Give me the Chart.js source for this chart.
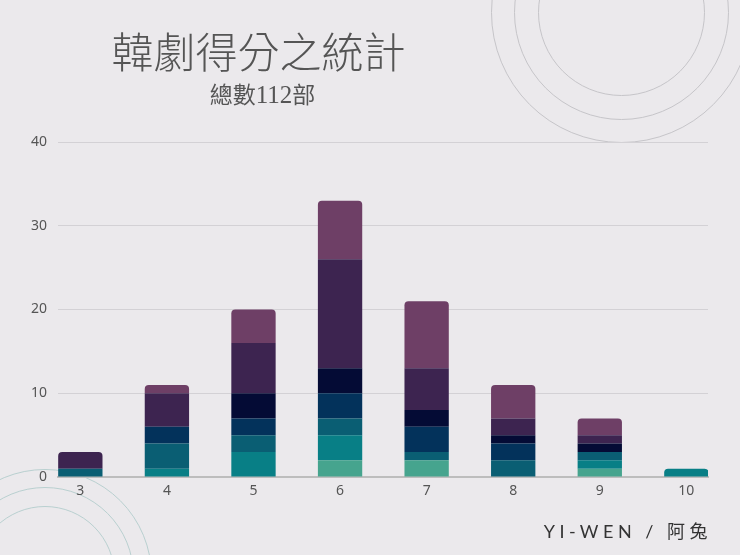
<!DOCTYPE html>
<html>
<head>
<meta charset="utf-8">
<script src="https://cdn.jsdelivr.net/npm/chart.js@4.4.0/dist/chart.umd.min.js"></script>
<style>
  html, body { margin: 0; padding: 0; }
  body { width: 740px; height: 555px; background: #ebe9ec; position: relative; overflow: hidden; }
  .ring { position: absolute; border-radius: 50%; box-sizing: border-box; }
  .ring.tr { border: 1px solid #c6c5c9; }
  .ring.bl { border: 1px solid #b9d0d0; }
  #box { position: absolute; left: 0; top: 0; width: 740px; height: 555px; }
  .title { position: absolute; left: 0; width: 517px; text-align: center; color: #555;
           font-family: "Noto Sans CJK TC", sans-serif; font-weight: 300; font-size: 42px; line-height: 42px; top: 29px; }
  .sub { position: absolute; left: 0; width: 525px; text-align: center; color: #555;
         font-family: "Noto Sans CJK TC", sans-serif; font-size: 23px; line-height: 23px; top: 82px; }
  .sub span { font-family: "Liberation Serif", serif; font-size: 25px; }
  .sign { position: absolute; right: 28px; top: 521px; color: #333; font-family: Lato, "Noto Sans CJK TC", sans-serif;
          font-size: 18px; line-height: 20px; letter-spacing: 4.5px; }
</style>
</head>
<body>
<div class="ring tr" style="left:538px;top:-71px;width:167px;height:167px"></div>
<div class="ring tr" style="left:514px;top:-95px;width:215px;height:215px"></div>
<div class="ring tr" style="left:491px;top:-118px;width:261px;height:261px"></div>
<div class="ring bl" style="left:-25px;top:506px;width:140px;height:140px"></div>
<div class="ring bl" style="left:-44px;top:487px;width:178px;height:178px"></div>
<div class="ring bl" style="left:-62px;top:469px;width:214px;height:214px"></div>
<div id="box"><canvas id="scoreChart" width="740" height="555"></canvas></div>
<div class="title">韓劇得分之統計</div>
<div class="sub">總數<span>112</span>部</div>
<div class="sign">YI-WEN / 阿兔</div>
<script>
const scores = [3, 4, 5, 6, 7, 8, 9, 10];
// stacked from the bottom up
const greenData      = [0, 0, 0, 2, 2, 0, 1, 0];
const tealData       = [0, 1, 3, 3, 0, 0, 1, 1];
const darkTealData   = [1, 3, 2, 2, 1, 2, 1, 0];
const navyData       = [0, 2, 2, 3, 3, 2, 0, 0];
const darkNavyData   = [0, 0, 3, 3, 2, 1, 1, 0];
const darkPurpleData = [2, 4, 6, 13, 5, 2, 1, 0];
const purpleData     = [0, 1, 4, 7, 8, 4, 2, 0];
const yTickMax = 40;
const yTickStep = 10;

Chart.defaults.font.family = "'Noto Sans', sans-serif";

const seriesList = [
  { label: 'A', data: greenData, color: '#46a48e' },
  { label: 'B', data: tealData, color: '#087f86' },
  { label: 'C', data: darkTealData, color: '#0a5e73' },
  { label: 'D', data: navyData, color: '#03325b' },
  { label: 'E', data: darkNavyData, color: '#040b35' },
  { label: 'F', data: darkPurpleData, color: '#3d2450' },
  { label: 'G', data: purpleData, color: '#6e3f66' }
];

const chartData = {
  labels: scores,
  datasets: seriesList.map(s => ({
    label: s.label,
    data: s.data,
    backgroundColor: s.color,
    borderWidth: 0,
    borderRadius: 4,
    categoryPercentage: 1,
    barPercentage: 0.512
  }))
};

const config = {
  type: 'bar',
  data: chartData,
  options: {
    responsive: false,
    animation: false,
    layout: { padding: { top: 142, right: 32, bottom: 56, left: 0 } },
    plugins: {
      legend: { display: false },
      tooltip: { enabled: false }
    },
    scales: {
      x: {
        type: 'linear',
        stacked: true,
        offset: false,
        min: 2.742,
        max: 10.25,
        grid: { display: false, drawTicks: false, offset: false },
        border: { display: true, color: '#bdbdbd', width: 2 },
        ticks: { stepSize: 1, includeBounds: false, padding: 6, color: '#555', font: { size: 14 } },
        afterFit: function(scale) { scale.height = 22; }
      },
      y: {
        stacked: true,
        min: 0,
        max: yTickMax,
        grid: { color: '#d3d1d5', lineWidth: 1, drawTicks: false },
        border: { display: false },
        ticks: { stepSize: yTickStep, padding: 11, color: '#555', font: { size: 14 } },
        afterFit: function(scale) { scale.width = 58; }
      }
    }
  }
};

const scoreChart = new Chart(document.getElementById('scoreChart'), config);
</script>
</body>
</html>
